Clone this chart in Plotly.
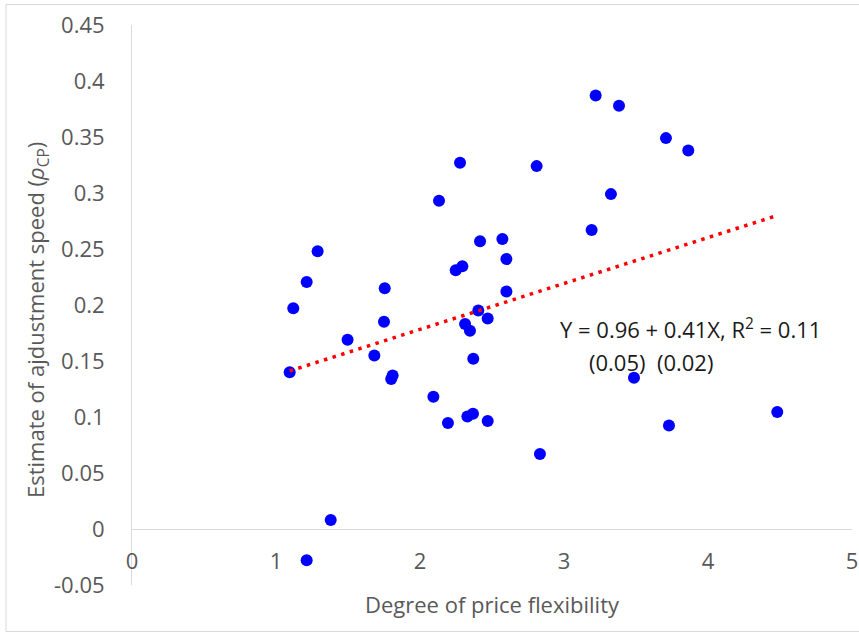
import plotly.graph_objects as go

# ---- data ----
price_flex = [1.095, 1.12, 1.213, 1.289, 1.213, 1.38, 1.497, 1.683, 1.75, 1.755,
              1.80, 1.81, 2.093, 2.132, 2.194, 2.248, 2.278, 2.294, 2.313, 2.329,
              2.347, 2.368, 2.37, 2.405, 2.417, 2.47, 2.47, 2.572, 2.60, 2.60,
              2.81, 2.833, 3.192, 3.22, 3.326, 3.382, 3.486, 3.708, 3.729, 3.863,
              4.481]
adj_speed = [0.140, 0.197, 0.2205, 0.248, -0.028, 0.008, 0.169, 0.155, 0.185, 0.215,
             0.134, 0.137, 0.118, 0.293, 0.0946, 0.231, 0.327, 0.2345, 0.183, 0.1005,
             0.177, 0.103, 0.152, 0.195, 0.257, 0.188, 0.0964, 0.259, 0.241, 0.212,
             0.324, 0.067, 0.267, 0.387, 0.299, 0.378, 0.135, 0.349, 0.0925, 0.338,
             0.1045]

trend_intercept = 0.0962
trend_slope = 0.041

y_tickvals = [-0.05, 0, 0.05, 0.1, 0.15, 0.2, 0.25, 0.3, 0.35, 0.4, 0.45]
y_ticktext = ["-0.05", "0", "0.05", "0.1", "0.15", "0.2", "0.25", "0.3", "0.35", "0.4", "0.45"]
x_tickvals = [0, 1, 2, 3, 4, 5]
x_ticktext = ["0", "1", "2", "3", "4", "5"]

eq_line1 = "Y = 0.96 + 0.41X, R<sup>2</sup> = 0.11"
eq_line2 = "(0.05)  (0.02)"

# ---- layout geometry (pixels) ----
W, H = 859, 634
L, R, T, B = 132, 7, 25, 49
pw, ph = W - L - R, H - T - B

def px2paper_x(px):
    return (px - L) / pw

def py2paper_y(py):
    return (H - B - py) / ph

FONT = "Open Sans"
FS = 22
GRAY = "#595959"
AXISLINE = "#d9d9d9"

tx = [min(price_flex), max(price_flex)]
ty = [trend_intercept + trend_slope * v for v in tx]

fig = go.Figure()
fig.add_trace(go.Scatter(
    x=price_flex, y=adj_speed, mode="markers",
    marker=dict(color="#0000ff", size=12, line=dict(width=0)),
    showlegend=False, hoverinfo="x+y"))
fig.add_trace(go.Scatter(
    x=tx, y=ty, mode="lines",
    line=dict(color="#ff0000", width=3.5, dash="3.5px,5.5px"),
    showlegend=False, hoverinfo="skip"))

ymin, ymax = -0.05, 0.45
zero_pos = (0 - ymin) / (ymax - ymin)

fig.update_layout(
    width=W, height=H,
    margin=dict(l=L, r=R, t=T, b=B, autoexpand=False),
    paper_bgcolor="white", plot_bgcolor="white",
    font=dict(family=FONT, size=FS, color=GRAY),
    xaxis=dict(range=[0, 5], tickvals=x_tickvals, ticktext=x_ticktext,
               showgrid=False, zeroline=False, showline=True, linecolor=AXISLINE,
               linewidth=1, ticks="", anchor="free", position=zero_pos,
               automargin=False, ticklabeloverflow="allow",
               ticklabelstandoff=13, tickfont=dict(size=FS, color=GRAY)),
    yaxis=dict(range=[ymin, ymax], tickvals=y_tickvals, ticktext=y_ticktext,
               showgrid=False, zeroline=False, showline=True, linecolor=AXISLINE,
               linewidth=1, ticks="", ticklabelstandoff=22, automargin=False,
               tickfont=dict(size=FS, color=GRAY)),
    shapes=[dict(type="rect", xref="paper", yref="paper",
                 x0=px2paper_x(6), x1=px2paper_x(880),
                 y0=py2paper_y(631.5), y1=py2paper_y(4.5),
                 line=dict(color="#d9d9d9", width=1), layer="below")],
    annotations=[
        dict(text="Degree of price flexibility", xref="paper", yref="paper",
             x=px2paper_x(492), y=py2paper_y(604), xanchor="center", yanchor="middle",
             showarrow=False, font=dict(size=FS, color=GRAY, family=FONT)),
        dict(text="Estimate of ajdustment speed (<i>ρ</i><sub>CP</sub>)", xref="paper", yref="paper",
             x=px2paper_x(37), y=py2paper_y(320), xanchor="center", yanchor="middle",
             textangle=-90, showarrow=False, font=dict(size=FS, color=GRAY, family=FONT)),
        dict(text=eq_line1, xref="paper", yref="paper",
             x=px2paper_x(558), y=py2paper_y(328), xanchor="left", yanchor="middle",
             showarrow=False, font=dict(size=FS, color="#1a1a1a", family=FONT)),
        dict(text=eq_line2, xref="paper", yref="paper",
             x=px2paper_x(587), y=py2paper_y(362), xanchor="left", yanchor="middle",
             showarrow=False, font=dict(size=FS, color="#1a1a1a", family=FONT)),
    ],
)

fig.write_html("out.html", config={"displayModeBar": False},
               post_script="document.body.style.margin='0';")
